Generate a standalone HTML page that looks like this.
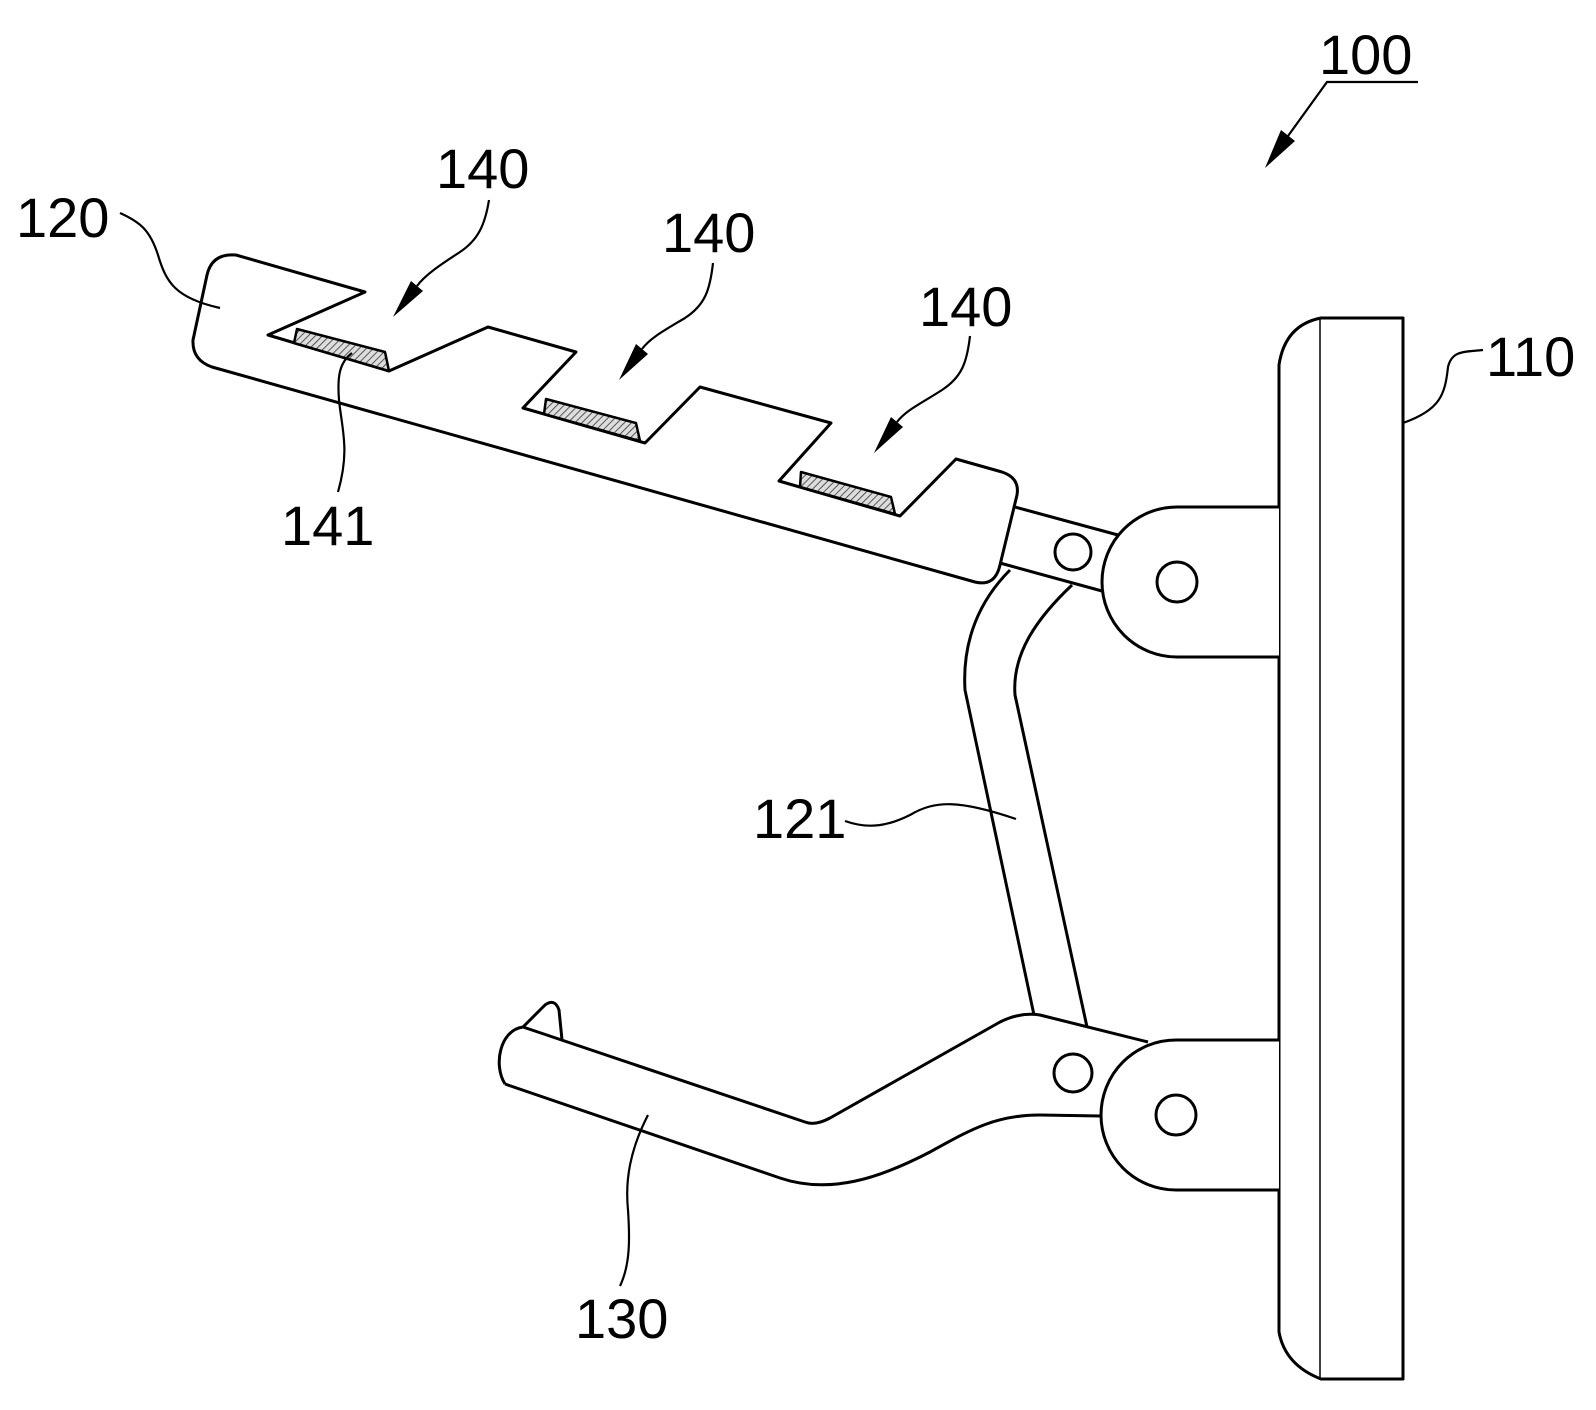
<!DOCTYPE html>
<html><head><meta charset="utf-8"><style>
html,body{margin:0;padding:0;background:#fff;}
svg{display:block;}
text{font-family:"Liberation Sans","DejaVu Sans",sans-serif;font-size:56px;fill:#000;}
</style></head><body>
<svg width="1596" height="1410" viewBox="0 0 1596 1410" xmlns="http://www.w3.org/2000/svg">
<defs>
<pattern id="h" width="5" height="5" patternUnits="userSpaceOnUse" patternTransform="rotate(45)">
<rect width="5" height="5" fill="#ddd"/><line x1="0" y1="0" x2="0" y2="5" stroke="#333" stroke-width="1.6"/>
</pattern>
</defs>
<g fill="none" stroke="#000" stroke-width="3" stroke-linejoin="round">
<path d="M1321,318 L1403,318 L1403,1379 L1321,1379 Q1285,1365 1279,1332 L1279,365 Q1285,325 1321,318 Z" fill="#fff"/>
<line x1="1320" y1="318" x2="1320" y2="1379" stroke-width="1.5"/>
<line x1="1015" y1="507" x2="1118" y2="535"/>
<line x1="1000" y1="563" x2="1102" y2="591"/>
<path d="M1010,570 C980,600 962,640 965,690 L1034,1015"/>
<path d="M1072,585 C1035,620 1012,655 1015,695 L1087,1027"/>
<path d="M236,255 L365,292 L268,335 L389,371 L488,327 L576,352 L523,408 L645,443 L700,387 L831,423 L779,481 L900,516 L956,459 L1002,472 Q1020,478 1017,495 L1000,565 Q995,587 975,582 L212,367 Q192,360 193,340 L207,275 Q212,253 236,255 Z" fill="#fff"/>
<polygon points="297,329 385,352 389,371 294,343" fill="url(#h)" stroke-width="2.5"/>
<polygon points="546,399 636,423 640,441 544,414" fill="url(#h)" stroke-width="2.5"/>
<polygon points="801,472 891,497 895,514 800,487" fill="url(#h)" stroke-width="2.5"/>
<path d="M1279,507 L1177,507 A75,75 0 0 0 1177,657 L1279,657" fill="#fff"/>
<circle cx="1177" cy="582" r="20"/>
<circle cx="1073" cy="552" r="18"/>
<path d="M523,1027 L805,1122 Q815,1126 830,1118 L1000,1022 Q1020,1012 1040,1015 L1148,1042"/>
<path d="M505,1084 L780,1178 C830,1195 880,1178 930,1152 C970,1130 995,1115 1040,1115 L1101,1116"/>
<path d="M523,1027 C500,1030 493,1065 505,1084"/>
<path d="M523,1027 L545,1005 Q555,998 559,1010 L562,1040"/>
<path d="M1279,1040 L1176,1040 A75,75 0 0 0 1176,1190 L1279,1190" fill="#fff"/>
<circle cx="1176" cy="1115" r="20"/>
<circle cx="1073" cy="1073" r="19"/>
</g>
<g fill="none" stroke="#000" stroke-width="2.2">
<path d="M1403,423 C1440,410 1445,395 1448,367 C1452,350 1465,352 1483,350"/>
<path d="M1418,82 L1327,82 L1288,136"/>
<path d="M489,200 C485,225 478,240 460,252 C440,265 425,275 417,286"/>
<path d="M713,263 C710,290 705,305 685,318 C665,330 650,338 642,349"/>
<path d="M970,336 C967,362 962,377 942,390 C922,403 906,410 897,422"/>
<path d="M120,213 C140,222 150,230 158,255 C166,282 175,298 220,308"/>
<path d="M352,353 C340,362 337,375 339,400 C342,430 350,450 338,492"/>
<path d="M845,821 C870,830 890,825 910,815 C935,800 960,800 1016,819"/>
<path d="M648,1115 C630,1150 625,1180 628,1210 C630,1240 630,1265 620,1286"/>
</g>
<g fill="#000">
<polygon points="1265,168 1295,141 1281,130"/>
<polygon points="393,317 423,291 411,281"/>
<polygon points="619,380 648,354 636,344"/>
<polygon points="874,453 903,427 891,417"/>
</g>
<text x="1319" y="74">100</text>
<text x="436" y="188">140</text>
<text x="662" y="252">140</text>
<text x="919" y="326">140</text>
<text x="16" y="237">120</text>
<text x="281" y="545">141</text>
<text x="753" y="838">121</text>
<text x="575" y="1338">130</text>
<text x="1486" y="376">110</text>
</svg>
</body></html>
